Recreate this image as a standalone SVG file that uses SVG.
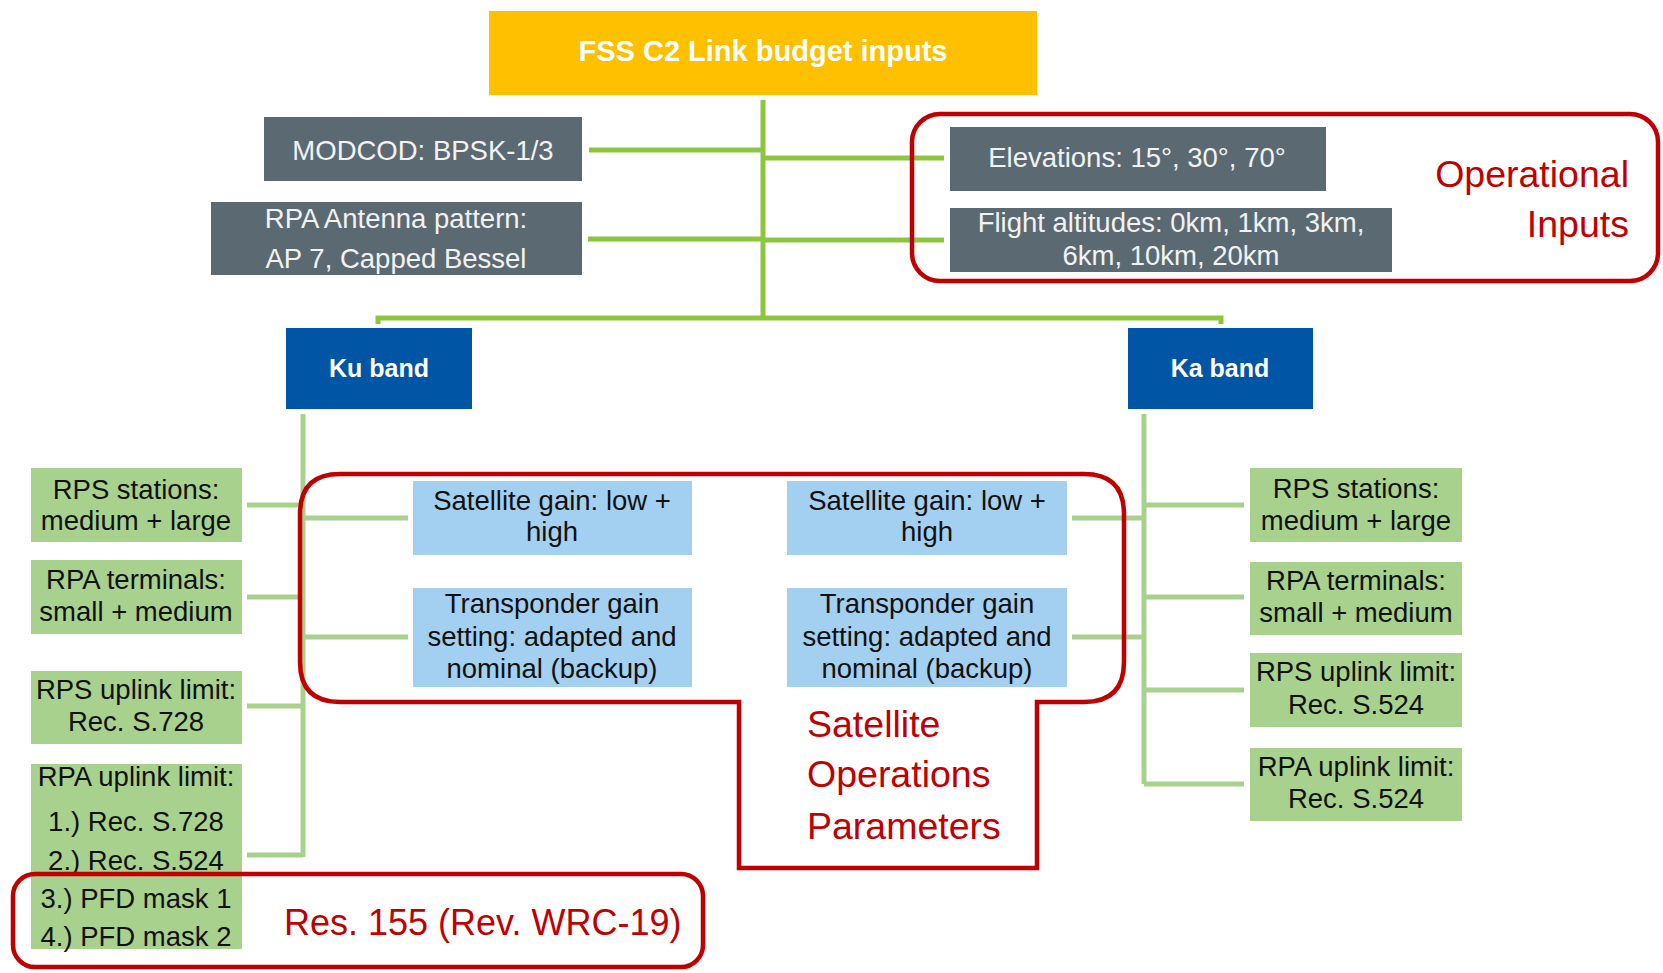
<svg xmlns="http://www.w3.org/2000/svg" width="1663" height="973" viewBox="0 0 1663 973">
<style>
  .t { font-family: "Liberation Sans", Arial, sans-serif; font-size: 27.5px; text-anchor: middle; }
  .w { fill: #F2F2F2; }
  .k { fill: #111111; }
  .b { font-family: "Liberation Sans", Arial, sans-serif; font-weight: bold; fill: #FFFFFF; text-anchor: middle; }
  .red { font-family: "Liberation Sans", Arial, sans-serif; font-size: 37.5px; fill: #C00000; }
  .gray { fill: #5B6A72; }
  .gbox { fill: #A9D18E; }
  .bbox { fill: #A3CFF0; }
  .band { fill: #0055A5; }
  .c1 { stroke: #8CC63F; stroke-width: 5; fill: none; }
  .c2 { stroke: #A9D18E; stroke-width: 5; fill: none; }
  .outline { stroke: #C00000; stroke-width: 4.5; fill: none; }
</style>

<g id="connectors">
  <path class="c1" d="M763,100 V318 M589,150 H763 M588,239 H763 M763,158 H944 M763,240 H944 M378,324 V318 H1221 V324"/>
  <path class="c2" d="M303,414 V857 M247,505 H303 M247,597 H303 M247,706 H303 M247,855 H303 M303,518 H408 M303,637 H408"/>
  <path class="c2" d="M1144,414 V784 M1072,518 H1144 M1072,637 H1144 M1144,505 H1244 M1144,597 H1244 M1144,690 H1244 M1144,784 H1244"/>
</g>

<g id="title">
  <rect x="489" y="11" width="548" height="84" fill="#FFC000"/>
  <text class="b" x="763" y="61" font-size="29">FSS C2 Link budget inputs</text>
</g>

<g id="modcod">
  <rect class="gray" x="264" y="117" width="318" height="64"/>
  <text class="t w" x="423" y="160">MODCOD: BPSK-1/3</text>
</g>

<g id="antenna">
  <rect class="gray" x="211" y="202" width="371" height="73"/>
  <text class="t w" x="396" y="228">RPA Antenna pattern:</text>
  <text class="t w" x="396" y="268">AP 7, Capped Bessel</text>
</g>

<g id="elevations">
  <rect class="gray" x="950" y="127" width="376" height="64"/>
  <text class="t w" x="1137" y="167">Elevations: 15°, 30°, 70°</text>
</g>

<g id="altitudes">
  <rect class="gray" x="950" y="208" width="442" height="64"/>
  <text class="t w" x="1171" y="232">Flight altitudes: 0km, 1km, 3km,</text>
  <text class="t w" x="1171" y="265">6km, 10km, 20km</text>
</g>

<g id="operational-inputs">
  <rect class="outline" x="912" y="114" width="746" height="167" rx="28"/>
  <text class="red" x="1629" y="187" text-anchor="end">Operational</text>
  <text class="red" x="1629" y="237" text-anchor="end">Inputs</text>
</g>

<g id="ku-band">
  <rect class="band" x="286" y="328" width="186" height="81"/>
  <text class="b" x="379" y="377" font-size="25">Ku band</text>
</g>

<g id="ka-band">
  <rect class="band" x="1128" y="328" width="185" height="81"/>
  <text class="b" x="1220" y="377" font-size="25">Ka band</text>
</g>

<g id="ku-rps-stations">
  <rect class="gbox" x="31" y="468" width="211" height="74"/>
  <text class="t k" x="136" y="499">RPS stations:</text>
  <text class="t k" x="136" y="530">medium + large</text>
</g>
<g id="ku-rpa-terminals">
  <rect class="gbox" x="31" y="560" width="211" height="74"/>
  <text class="t k" x="136" y="589">RPA terminals:</text>
  <text class="t k" x="136" y="621">small + medium</text>
</g>
<g id="ku-rps-uplink">
  <rect class="gbox" x="31" y="671" width="211" height="73"/>
  <text class="t k" x="136" y="699">RPS uplink limit:</text>
  <text class="t k" x="136" y="731">Rec. S.728</text>
</g>
<g id="ku-rpa-uplink">
  <rect class="gbox" x="31" y="764" width="211" height="185"/>
  <text class="t k" x="136" y="786">RPA uplink limit:</text>
  <text class="t k" x="136" y="831">1.) Rec. S.728</text>
  <text class="t k" x="136" y="870">2.) Rec. S.524</text>
  <text class="t k" x="136" y="908">3.) PFD mask 1</text>
  <text class="t k" x="136" y="946">4.) PFD mask 2</text>
</g>

<g id="ku-sat-gain">
  <rect class="bbox" x="413" y="481" width="279" height="74"/>
  <text class="t k" x="552" y="510">Satellite gain: low +</text>
  <text class="t k" x="552" y="541">high</text>
</g>
<g id="ku-transponder">
  <rect class="bbox" x="413" y="588" width="279" height="99"/>
  <text class="t k" x="552" y="613">Transponder gain</text>
  <text class="t k" x="552" y="646">setting: adapted and</text>
  <text class="t k" x="552" y="678">nominal (backup)</text>
</g>
<g id="ka-sat-gain">
  <rect class="bbox" x="787" y="481" width="280" height="74"/>
  <text class="t k" x="927" y="510">Satellite gain: low +</text>
  <text class="t k" x="927" y="541">high</text>
</g>
<g id="ka-transponder">
  <rect class="bbox" x="787" y="588" width="280" height="99"/>
  <text class="t k" x="927" y="613">Transponder gain</text>
  <text class="t k" x="927" y="646">setting: adapted and</text>
  <text class="t k" x="927" y="678">nominal (backup)</text>
</g>

<g id="ka-rps-stations">
  <rect class="gbox" x="1250" y="468" width="212" height="74"/>
  <text class="t k" x="1356" y="498">RPS stations:</text>
  <text class="t k" x="1356" y="530">medium + large</text>
</g>
<g id="ka-rpa-terminals">
  <rect class="gbox" x="1250" y="562" width="212" height="73"/>
  <text class="t k" x="1356" y="590">RPA terminals:</text>
  <text class="t k" x="1356" y="622">small + medium</text>
</g>
<g id="ka-rps-uplink">
  <rect class="gbox" x="1250" y="653" width="212" height="74"/>
  <text class="t k" x="1356" y="681">RPS uplink limit:</text>
  <text class="t k" x="1356" y="714">Rec. S.524</text>
</g>
<g id="ka-rpa-uplink">
  <rect class="gbox" x="1250" y="748" width="212" height="73"/>
  <text class="t k" x="1356" y="776">RPA uplink limit:</text>
  <text class="t k" x="1356" y="808">Rec. S.524</text>
</g>

<g id="satellite-operations">
  <path class="outline" d="M340,474 H1084 Q1124,474 1124,514 V662 Q1124,702 1084,702 H1037 V868 H739 V702 H340 Q300,702 300,662 V514 Q300,474 340,474 Z"/>
  <text class="red" x="807" y="737">Satellite</text>
  <text class="red" x="807" y="787">Operations</text>
  <text class="red" x="807" y="839">Parameters</text>
</g>

<g id="res-155">
  <rect class="outline" x="13" y="874" width="690" height="93" rx="22"/>
  <text class="red" x="284" y="935" style="font-size:36px">Res. 155 (Rev. WRC-19)</text>
</g>
</svg>
